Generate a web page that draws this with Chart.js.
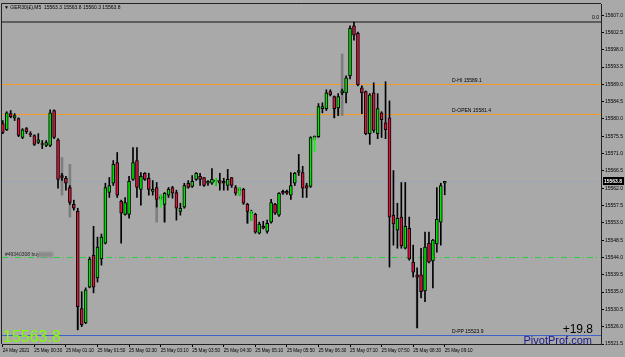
<!DOCTYPE html>
<html>
<head>
<meta charset="utf-8">
<script src="https://cdn.jsdelivr.net/npm/chart.js@4.4.1/dist/chart.umd.min.js"></script>
<style>
  html, body { margin: 0; padding: 0; background: #a9a9a9; }
  canvas { display: block; }
</style>
</head>
<body>
<canvas id="chart" width="625" height="357"></canvas>
<script>
// GER30(£) M5 candles, one per bar index (0 = 24 May 23:50, 112 = 25 May 09:10)
const openPrices = [
  15578.8, 15577.2, 15581.4, 15580.3, 15580.1, 15575.2, 15577.5, 15576.2, 15575.7, 15573.9,
  15573.6, 15573.1, 15573.1, 15582.2, 15574.6, 15565.3, 15564.6, 15562.2, 15557.8, 15556.0,
  15530.7, 15527.0, 15536.3, 15544.6, 15538.7, 15543.6, 15547.7, 15560.9, 15563.3, 15568.7,
  15558.6, 15555.2, 15555.2, 15564.3, 15569.2, 15561.7, 15565.9, 15564.6, 15561.2, 15562.2,
  15559.4, 15557.8, 15560.2, 15562.2, 15560.9, 15556.0, 15557.1, 15563.3, 15562.5, 15564.3,
  15565.1, 15564.8, 15563.3, 15563.3, 15563.8, 15564.0, 15563.8, 15562.7, 15564.8, 15562.2,
  15561.5, 15561.7, 15557.8, 15555.5, 15555.2, 15550.3, 15552.1, 15550.8, 15553.2, 15557.8,
  15555.0, 15561.2, 15561.2, 15560.2, 15563.3, 15566.1, 15566.1, 15562.7, 15562.5, 15575.2,
  15575.4, 15582.7, 15582.7, 15587.1, 15585.8, 15582.9, 15586.8, 15586.8, 15591.2, 15604.2,
  15602.3, 15588.1, 15587.1, 15576.2, 15586.8, 15576.2, 15581.6, 15579.0, 15580.3, 15555.0,
  15551.1, 15554.5, 15546.4, 15551.6, 15542.8, 15539.5, 15539.5, 15535.3, 15547.7, 15543.1,
  15547.5, 15553.2, 15563.3
];
const highPrices = [
  15579.6, 15581.9, 15582.2, 15581.4, 15580.3, 15577.5, 15577.8, 15576.7, 15575.9, 15576.2,
  15574.4, 15574.4, 15582.4, 15582.4, 15574.9, 15565.9, 15565.1, 15562.7, 15558.9, 15556.8,
  15535.1, 15536.1, 15544.1, 15552.1, 15549.3, 15550.1, 15563.3, 15564.8, 15569.2, 15571.3,
  15558.9, 15559.6, 15565.1, 15572.6, 15572.6, 15566.1, 15566.1, 15565.9, 15564.0, 15563.5,
  15560.2, 15560.9, 15562.2, 15562.5, 15561.5, 15558.1, 15563.3, 15564.0, 15565.3, 15566.1,
  15565.9, 15564.8, 15564.0, 15567.1, 15564.6, 15565.9, 15564.6, 15566.9, 15564.8, 15562.7,
  15562.2, 15562.0, 15558.1, 15556.3, 15555.5, 15553.2, 15553.4, 15553.7, 15559.1, 15558.1,
  15560.9, 15561.5, 15561.5, 15566.1, 15566.1, 15570.8, 15567.7, 15563.3, 15575.4, 15575.6,
  15584.0, 15584.2, 15587.6, 15587.6, 15586.0, 15586.6, 15587.8, 15591.2, 15604.2, 15605.2,
  15602.6, 15588.6, 15587.3, 15586.6, 15589.4, 15586.6, 15581.9, 15589.7, 15584.7, 15566.6,
  15558.1, 15563.5, 15563.5, 15554.5, 15547.2, 15541.3, 15546.4, 15550.6, 15550.6, 15548.7,
  15562.2, 15563.3, 15563.8
];
const lowPrices = [
  15576.2, 15577.0, 15580.3, 15579.6, 15575.4, 15574.9, 15576.2, 15575.4, 15573.1, 15573.6,
  15572.3, 15572.8, 15572.8, 15574.9, 15562.0, 15564.0, 15561.5, 15557.8, 15556.3, 15525.2,
  15526.0, 15526.8, 15536.1, 15534.8, 15537.6, 15542.0, 15547.5, 15559.6, 15562.7, 15559.6,
  15547.7, 15555.0, 15554.2, 15564.0, 15559.6, 15557.6, 15564.0, 15560.2, 15560.2, 15557.1,
  15558.9, 15553.2, 15559.6, 15559.4, 15553.7, 15555.0, 15556.8, 15562.0, 15562.2, 15564.0,
  15562.7, 15562.5, 15562.7, 15563.0, 15562.7, 15561.5, 15561.5, 15561.5, 15562.2, 15560.2,
  15560.2, 15557.8, 15552.9, 15553.7, 15550.3, 15550.1, 15551.4, 15550.3, 15552.9, 15555.2,
  15554.7, 15560.4, 15560.4, 15559.1, 15562.7, 15565.3, 15559.6, 15559.6, 15562.2, 15574.6,
  15575.2, 15581.6, 15582.2, 15586.0, 15580.3, 15580.9, 15586.3, 15584.2, 15590.4, 15600.5,
  15588.6, 15581.4, 15575.9, 15573.4, 15576.5, 15574.9, 15575.2, 15574.9, 15541.5, 15547.2,
  15546.4, 15546.4, 15546.2, 15543.3, 15538.9, 15525.7, 15533.5, 15532.5, 15542.6, 15536.1,
  15545.4, 15547.2, 15560.3
];
const closePrices = [
  15576.5, 15581.6, 15580.6, 15580.9, 15575.7, 15577.2, 15576.7, 15575.9, 15573.4, 15574.6,
  15573.4, 15573.9, 15581.6, 15575.2, 15564.3, 15564.8, 15563.3, 15558.3, 15556.8, 15531.2,
  15526.5, 15535.6, 15543.6, 15536.3, 15546.7, 15549.3, 15562.2, 15562.7, 15568.2, 15560.2,
  15555.5, 15558.3, 15563.8, 15568.7, 15562.2, 15565.1, 15564.3, 15561.7, 15561.7, 15559.1,
  15559.7, 15560.7, 15561.7, 15560.7, 15556.8, 15556.8, 15562.7, 15562.2, 15563.8, 15565.9,
  15564.3, 15562.7, 15563.8, 15564.3, 15564.1, 15563.3, 15563.3, 15564.3, 15562.7, 15560.7,
  15561.8, 15558.1, 15556.0, 15555.8, 15550.6, 15552.7, 15551.6, 15552.9, 15558.3, 15555.5,
  15560.7, 15560.7, 15560.7, 15562.7, 15565.9, 15566.6, 15562.0, 15562.0, 15575.2, 15575.5,
  15583.2, 15583.2, 15586.8, 15586.3, 15582.7, 15585.8, 15587.3, 15590.7, 15603.6, 15601.8,
  15588.9, 15586.8, 15576.2, 15586.3, 15577.0, 15582.7, 15579.8, 15577.2, 15554.5, 15552.7,
  15554.2, 15547.0, 15552.1, 15543.6, 15540.2, 15538.9, 15535.1, 15546.7, 15542.8, 15548.5,
  15553.9, 15562.7, 15563.8
];

const timeTickBars = [0, 8, 16, 24, 32, 40, 48, 56, 64, 72, 80, 88, 96, 104, 112];
const timeLabels = [
  '24 May 2021', '25 May 00:30', '25 May 01:10', '25 May 01:50', '25 May 02:30',
  '25 May 03:10', '25 May 03:50', '25 May 04:30', '25 May 05:10', '25 May 05:50',
  '25 May 06:30', '25 May 07:10', '25 May 07:50', '25 May 08:30', '25 May 09:10'
];
const priceTicks = [
  15521.5, 15526.0, 15530.5, 15535.0, 15539.5, 15544.0, 15548.5, 15553.0, 15557.5, 15562.0,
  15566.5, 15571.0, 15575.5, 15580.0, 15584.5, 15589.0, 15593.5, 15598.0, 15602.5, 15607.0
];

// grey shadow wicks drawn behind some candles
const shadowBars = [15, 17, 19, 39, 41, 62, 84, 85, 86, 105];
const shadowLow = [15560.2, 15554.5, 15525.2, 15553.2, 15553.2, 15552.9, 15580.3, 15580.9, 15580.9, 15525.7];
const shadowHigh = [15570.0, 15568.2, 15531.2, 15558.9, 15557.8, 15556.0, 15582.7, 15582.9, 15596.9, 15538.9];

// trade arrows
const arrowBars = [40, 54, 60, 63, 79];
const arrowLow = [15557.1, 15562.7, 15560.2, 15553.7, 15571.5];
const arrowHigh = [15560.2, 15564.6, 15562.2, 15556.0, 15575.2];

// levels
const topLevel = 15605.4;
const dayHigh = 15589.1;
const dayOpen = 15581.4;
const lastPrice = 15563.8;
const orderPrice = 15544.1;
const dayPivot = 15523.9;
const orderLabel = '#49340308 buy';
const dayChange = '+19.8';
const headerText = '\u25BC GER30(\u00A3),M5  15563.3 15563.8 15560.3 15563.8';

const BG = '#a9a9a9';
const BULL = '#00e400';
const BEAR = '#dc143c';
const ORANGE = '#f39a22';
const FONT = '"Liberation Sans", Arial, sans-serif';

Chart.defaults.font.family = FONT;
Chart.defaults.color = '#000';

const bodyColors = openPrices.map((o, i) => closePrices[i] >= o ? BULL : BEAR);

// solid level line as a filled strip, dashed ones stroked
function hline(chart, price, color, width, dash) {
    const {ctx, chartArea: a, scales: {y}} = chart;
    const py = Math.round(y.getPixelForValue(price));
    ctx.save();
    if (dash) {
        ctx.strokeStyle = color;
        ctx.lineWidth = width;
        ctx.setLineDash(dash);
        ctx.beginPath();
        ctx.moveTo(a.left, py + 0.5);
        ctx.lineTo(a.right, py + 0.5);
        ctx.stroke();
    } else {
        ctx.fillStyle = color;
        ctx.fillRect(a.left, py, a.right - a.left, width);
    }
    ctx.restore();
}

function text(ctx, str, x, y, font, color, align) {
    ctx.save();
    ctx.font = font;
    ctx.fillStyle = color;
    ctx.textAlign = align || 'left';
    ctx.textBaseline = 'alphabetic';
    ctx.fillText(str, x, y);
    ctx.restore();
}

const overlay = {
    id: 'overlay',
    beforeDraw(chart) {
        const ctx = chart.ctx;
        ctx.save();
        ctx.fillStyle = BG;
        ctx.fillRect(0, 0, chart.width, chart.height);
        ctx.restore();
    },
    beforeDatasetsDraw(chart) {
        hline(chart, topLevel, '#5e5e5e', 2);
        hline(chart, lastPrice, '#9ba6b6', 1);
        hline(chart, orderPrice, '#2ecc40', 1, [6, 3, 1, 3]);
        hline(chart, dayPivot, '#4062c8', 1);
        hline(chart, dayHigh, ORANGE, 1);
        hline(chart, dayOpen, ORANGE, 1);
    },
    afterDraw(chart) {
        const {ctx, chartArea: a, scales: {y}} = chart;
        // frame
        ctx.save();
        ctx.strokeStyle = '#222';
        ctx.lineWidth = 1;
        ctx.beginPath();
        ctx.moveTo(a.left - 0.5, a.bottom);
        ctx.lineTo(a.left - 0.5, a.top - 0.5);
        ctx.lineTo(a.right, a.top - 0.5);
        ctx.stroke();
        ctx.restore();

        const small = '5px ' + FONT;
        text(ctx, headerText, a.left + 2, a.top + 5, small, '#000');
        text(ctx, '0.0', a.right - 2, y.getPixelForValue(topLevel) - 2, small, '#000', 'right');
        text(ctx, 'D-HI ' + dayHigh.toFixed(1), 452, y.getPixelForValue(dayHigh) - 2, small, '#000');
        text(ctx, 'D-OPEN ' + dayOpen.toFixed(1), 452, y.getPixelForValue(dayOpen) - 2, small, '#000');
        text(ctx, 'D-PP ' + dayPivot.toFixed(1), 452, y.getPixelForValue(dayPivot) - 2, small, '#000');

        // order label with blurred comment
        const oy = y.getPixelForValue(orderPrice);
        text(ctx, orderLabel, 5, oy - 1, small, '#222');
        ctx.save();
        ctx.filter = 'blur(1px)';
        ctx.fillStyle = '#8a8a8a';
        ctx.fillRect(38, oy - 5, 15, 5);
        ctx.restore();

        // last price box on the axis
        const ly = Math.round(y.getPixelForValue(lastPrice));
        ctx.save();
        ctx.fillStyle = '#000';
        ctx.fillRect(a.right + 2, ly - 4, 21, 8);
        ctx.restore();
        text(ctx, lastPrice.toFixed(1), a.right + 3, ly + 2, 'bold 5px ' + FONT, '#fff');

        // bottom texts
        text(ctx, lastPrice.toFixed(1), 3, 342, '16px ' + FONT, '#80ff00');
        text(ctx, dayChange, 593, 333, '12px ' + FONT, '#000', 'right');
        text(ctx, 'PivotProf.com', 592, 344, '11px ' + FONT, '#1a1a8c', 'right');
    }
};

const range = (n) => Array.from({length: n}, (_, i) => i);

new Chart(document.getElementById('chart'), {
    type: 'bar',
    data: {
        datasets: [
            {
                label: 'shadow',
                data: shadowBars.map((b, k) => ({x: b, y: [shadowLow[k], shadowHigh[k]]})),
                backgroundColor: '#7e7e7e',
                barThickness: 2,
                order: 4
            },
            {
                label: 'wick',
                data: range(openPrices.length).map(i => ({x: i, y: [lowPrices[i], highPrices[i]]})),
                backgroundColor: '#000',
                barThickness: 1,
                order: 3
            },
            {
                label: 'body',
                data: range(openPrices.length).map(i => ({x: i, y: [openPrices[i], closePrices[i]]})),
                backgroundColor: bodyColors,
                borderColor: '#000',
                borderWidth: 1,
                borderSkipped: false,
                barThickness: 3,
                order: 2
            },
            {
                label: 'arrow',
                data: arrowBars.map((b, k) => ({x: b, y: [arrowLow[k], arrowHigh[k]]})),
                backgroundColor: '#00ff00',
                barThickness: 1,
                order: 1
            }
        ]
    },
    options: {
        responsive: false,
        animation: false,
        datasets: { bar: { grouped: false } },
        layout: { padding: { left: 2, top: 2, right: 0, bottom: 0 } },
        plugins: {
            legend: { display: false },
            tooltip: { enabled: false },
            title: { display: false }
        },
        scales: {
            x: {
                type: 'linear',
                min: -0.2,
                max: 151.6,
                offset: false,
                grid: { drawOnChartArea: false, offset: false, tickLength: 3, color: '#000' },
                border: { color: '#222' },
                afterBuildTicks: scale => { scale.ticks = timeTickBars.map(v => ({value: v})); },
                afterFit: scale => { scale.height = 13; },
                ticks: {
                    autoSkip: false,
                    maxRotation: 0,
                    align: 'start',
                    padding: 1,
                    font: { size: 4.6 },
                    color: '#000',
                    callback: value => timeLabels[timeTickBars.indexOf(value)]
                }
            },
            y: {
                position: 'right',
                min: 15521.5,
                max: 15609.9,
                grid: { drawOnChartArea: false, tickLength: 3, color: '#000' },
                border: { color: '#222' },
                afterBuildTicks: scale => { scale.ticks = priceTicks.map(v => ({value: v})); },
                afterFit: scale => { scale.width = 24; },
                ticks: {
                    autoSkip: false,
                    padding: 1,
                    font: { size: 5 },
                    color: '#000',
                    callback: value => value.toFixed(1)
                }
            }
        }
    },
    plugins: [overlay]
});
</script>
</body>
</html>
